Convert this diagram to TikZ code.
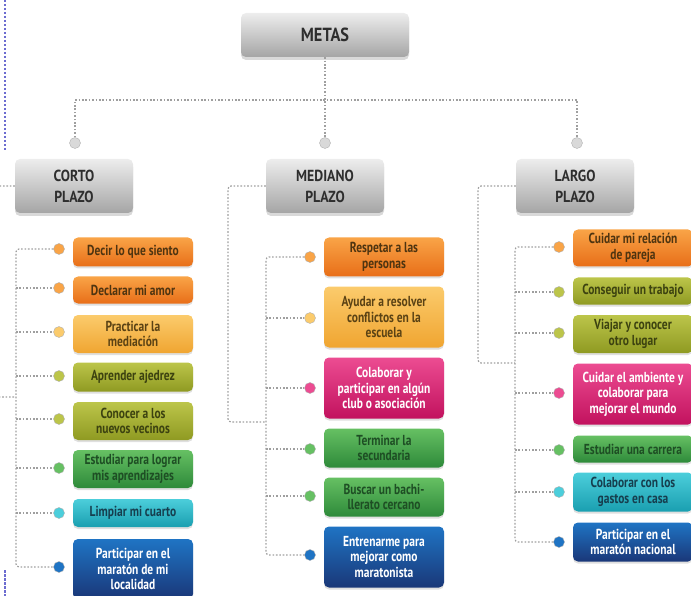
\documentclass[tikz,border=0pt]{standalone}
\usepackage{fontspec}
\setmainfont{PT Sans}
\newfontfamily\itemfont[FakeStretch=0.79]{PT Sans}
\newfontfamily\headfont[FakeStretch=0.86]{PT Sans}
\usetikzlibrary{shadows}

\definecolor{naranjaA}{HTML}{F9A447}
\definecolor{naranjaB}{HTML}{E86E18}
\definecolor{naranjaT}{HTML}{4E3410}
\definecolor{amarilloA}{HTML}{FBCB6C}
\definecolor{amarilloB}{HTML}{F0A531}
\definecolor{amarilloT}{HTML}{5A4214}
\definecolor{olivaA}{HTML}{BCC54A}
\definecolor{olivaB}{HTML}{8F9A22}
\definecolor{olivaT}{HTML}{3C4210}
\definecolor{verdeA}{HTML}{66C063}
\definecolor{verdeB}{HTML}{2E8A3A}
\definecolor{verdeT}{HTML}{1E4E24}
\definecolor{cianA}{HTML}{4CCEDB}
\definecolor{cianB}{HTML}{1A9FB0}
\definecolor{cianT}{HTML}{163E4E}
\definecolor{rosaA}{HTML}{EC4C92}
\definecolor{rosaB}{HTML}{C2125E}
\definecolor{azulA}{HTML}{1F74C4}
\definecolor{azulB}{HTML}{1A3778}
\definecolor{grisA}{HTML}{EDEDED}
\definecolor{grisB}{HTML}{A5A5A5}
\definecolor{marca}{HTML}{6C6CD0}

\tikzset{
  link/.style={draw=gray!75, line width=1.2pt, dash pattern=on 1.6pt off 1.8pt},
  goal/.style={rounded corners=5pt, inner sep=1pt, minimum width=120pt, align=center,
    minimum height=#1, font=\itemfont\bfseries\fontsize{14.5}{15.5}\selectfont,
    drop shadow={opacity=0.25, shadow xshift=0pt, shadow yshift=-2pt}},
  goal/.default=30,
  head/.style={rounded corners=5pt, top color=grisA, bottom color=grisB, text=black!82,
    align=center, font=\headfont\bfseries\fontsize{16}{21}\selectfont,
    drop shadow={opacity=0.3, shadow xshift=0pt, shadow yshift=-3pt}},
  punto/.style={circle, minimum size=11pt, inner sep=0pt, draw=gray!60, fill=#1},
  naranja/.style={top color=naranjaA, bottom color=naranjaB, text=naranjaT},
  amarillo/.style={top color=amarilloA, bottom color=amarilloB, text=amarilloT},
  oliva/.style={top color=olivaA, bottom color=olivaB, text=olivaT},
  verde/.style={top color=verdeA, bottom color=verdeB, text=verdeT},
  cian/.style={top color=cianA, bottom color=cianB, text=cianT},
  rosa/.style={top color=rosaA, bottom color=rosaB, text=white},
  azul/.style={top color=azulA, bottom color=azulB, text=white}
}

\begin{document}
\begin{tikzpicture}[x=1pt, y=-1pt]
  \useasboundingbox (0,0) rectangle (691,596);

  % marcas de la pagina
  \draw[marca, line width=1.1pt, dash pattern=on 2.5pt off 1.5pt] (5,0) -- (5,152);
  \draw[marca, line width=1.1pt, dash pattern=on 2.5pt off 1.5pt] (5,570) -- (5,596);

  % cabeceras
  \node[head, minimum width=168pt, minimum height=44pt, font=\headfont\bfseries\fontsize{19}{21}\selectfont] (metas) at (325,35) {METAS};
  \node[head, minimum width=118pt, minimum height=54pt] (corto) at (74,186) {CORTO\\PLAZO};
  \node[head, minimum width=118pt, minimum height=54pt] (mediano) at (325,186) {MEDIANO\\PLAZO};
  \node[head, minimum width=118pt, minimum height=54pt] (largo) at (575,186) {LARGO\\PLAZO};

  \node[punto=gray!30] (p1) at (75,143) {};
  \node[punto=gray!30] (p2) at (325,143) {};
  \node[punto=gray!30] (p3) at (577,143) {};
  \coordinate (bar) at (325,100);
  \draw[link] (metas.south) -- (p2.north);
  \draw[link] (p1.north) |- (bar) -| (p3.north);

  % corto plazo
  \node[goal=29, naranja] (c1) at (133,252) {Decir lo que siento};
  \node[goal=27, naranja] (c2) at (133,290) {Declarar mi amor};
  \node[goal=38, amarillo] (c3) at (133,334) {Practicar la\\mediación};
  \node[goal=29, oliva] (c4) at (133,377) {Aprender ajedrez};
  \node[goal=38, oliva] (c5) at (133,421) {Conocer a los\\nuevos vecinos};
  \node[goal=38, verde] (c6) at (133,469) {Estudiar para lograr\\mis aprendizajes};
  \node[goal=28, cian] (c7) at (133,513) {Limpiar mi cuarto};
  \node[goal=60, azul] (c8) at (133,569) {Participar en el\\maratón de mi\\localidad};

  \node[punto=naranjaA] (k1) at (59,249) {};
  \node[punto=naranjaA] (k2) at (59,288) {};
  \node[punto=amarilloA] (k3) at (59,332) {};
  \node[punto=olivaA] (k4) at (59,376) {};
  \node[punto=olivaA] (k5) at (59,419) {};
  \node[punto=verdeA] (k6) at (59,468) {};
  \node[punto=cianA] (k7) at (59,513) {};
  \node[punto=azulA] (k8) at (59,567) {};

  \coordinate (sL) at (16,397);
  \draw[link, rounded corners=3pt] (k1.west) -| (sL) |- (k8.west);
  \foreach \i in {2,...,7}
    \draw[link] (sL |- k\i.west) -- (k\i.west);
  \draw[link, rounded corners=3pt] (corto.west) -| (-20,397) -- (sL);

  % mediano plazo
  \node[goal=39, naranja] (m1) at (384,257) {Respetar a las\\personas};
  \node[goal=61, amarillo] (m2) at (384,317) {Ayudar a resolver\\conflictos en la\\escuela};
  \node[goal=61, rosa] (m3) at (384,388) {Colaborar y\\participar en algún\\club o asociación};
  \node[goal=39, verde] (m4) at (384,448) {Terminar la\\secundaria};
  \node[goal=39, verde] (m5) at (384,497) {Buscar un bachi-\\llerato cercano};
  \node[goal=61, azul] (m6) at (384,557) {Entrenarme para\\mejorar como\\maratonista};

  \node[punto=naranjaA] (n1) at (310,257) {};
  \node[punto=amarilloA] (n2) at (310,318) {};
  \node[punto=rosaA] (n3) at (310,388) {};
  \node[punto=verdeA] (n4) at (310,449) {};
  \node[punto=verdeA] (n5) at (310,496) {};
  \node[punto=azulA] (n6) at (310,555) {};

  \coordinate (sM) at (266,422);
  \draw[link, rounded corners=3pt] (n1.west) -| (sM) |- (n6.west);
  \foreach \i in {2,...,5}
    \draw[link] (sM |- n\i.west) -- (n\i.west);
  \draw[link, rounded corners=3pt] (mediano.west) -| (228,422) -- (sM);

  % largo plazo
  \node[goal=37, naranja] (l1) at (633,248) {Cuidar mi relación\\de pareja};
  \node[goal=27, oliva] (l2) at (633,291) {Conseguir un trabajo};
  \node[goal=38, oliva] (l3) at (633,334) {Viajar y conocer\\otro lugar};
  \node[goal=61, rosa] (l4) at (633,394) {Cuidar el ambiente y\\colaborar para\\mejorar el mundo};
  \node[goal=27, verde] (l5) at (633,449) {Estudiar una carrera};
  \node[goal=39, cian] (l6) at (633,492) {Colaborar con los\\gastos en casa};
  \node[goal=39, azul] (l7) at (633,542) {Participar en el\\maratón nacional};

  \node[punto=naranjaA] (r1) at (559,247) {};
  \node[punto=olivaA] (r2) at (559,292) {};
  \node[punto=olivaA] (r3) at (559,333) {};
  \node[punto=rosaA] (r4) at (559,393) {};
  \node[punto=verdeA] (r5) at (559,450) {};
  \node[punto=cianA] (r6) at (559,492) {};
  \node[punto=azulA] (r7) at (559,542) {};

  \coordinate (sR) at (515,363);
  \draw[link, rounded corners=3pt] (r1.west) -| (sR) |- (r7.west);
  \foreach \i in {2,...,6}
    \draw[link] (sR |- r\i.west) -- (r\i.west);
  \draw[link, rounded corners=3pt] (largo.west) -| (478,363) -- (sR);
\end{tikzpicture}
\end{document}
